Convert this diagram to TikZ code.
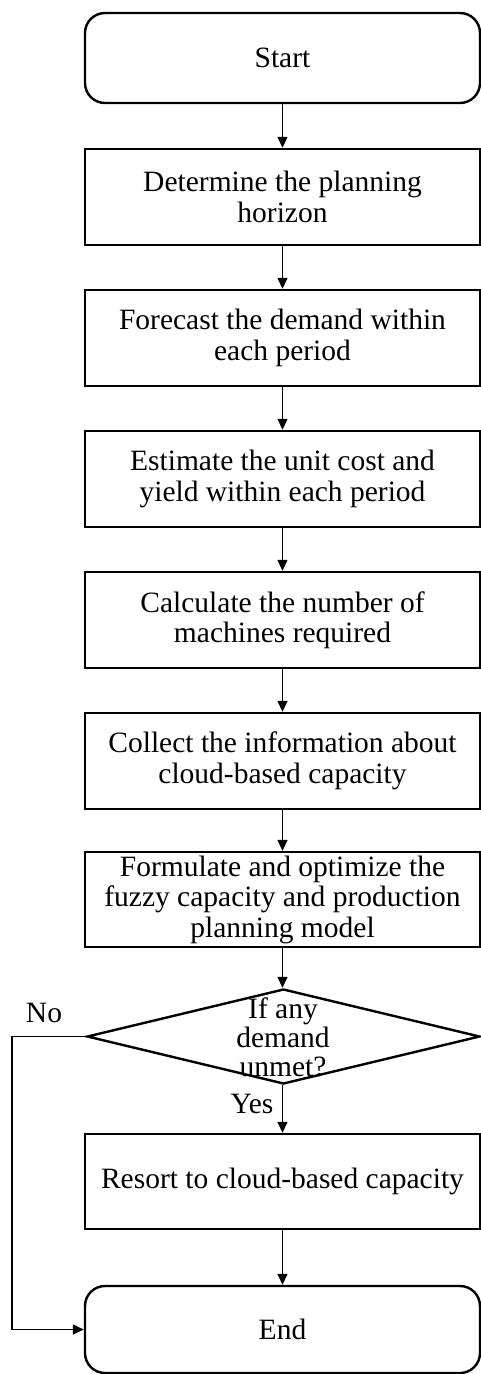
\documentclass[tikz,border=0pt]{standalone}
\usepackage{fontspec}
\setmainfont{Liberation Serif}
\usetikzlibrary{arrows.meta,shapes.geometric}
\begin{document}
\begin{tikzpicture}[x=1pt,y=-1pt,
  every node/.style={font=\fontsize{29.5}{30.5}\selectfont},
  procbox/.style={draw,line width=2.4pt,minimum width=395pt,minimum height=96pt,inner sep=0pt,align=center},
  termbox/.style={procbox,rounded corners=20pt},
  decbox/.style={draw,diamond,line width=2.4pt,minimum width=393pt,minimum height=95pt,inner sep=0pt},
  flow/.style={line width=1.4pt,-{Triangle[length=11pt,width=10pt]}},
  lbl/.style={inner sep=0pt,align=center}]
\useasboundingbox (0,0) rectangle (481,1374);
\node[termbox,minimum height=90pt] (start) at (282.5,58) {Start};
\node[procbox] (b1) at (282.5,197) {Determine the planning\\horizon};
\node[procbox] (b2) at (282.5,338) {Forecast the demand within\\each period};
\node[procbox] (b3) at (282.5,479) {Estimate the unit cost and\\yield within each period};
\node[procbox] (b4) at (282.5,620) {Calculate the number of\\machines required};
\node[procbox] (b5) at (282.5,761) {Collect the information about\\cloud-based capacity};
\node[procbox,minimum height=95pt] (b6) at (282.5,899.5) {Formulate and optimize the\\fuzzy capacity and production\\planning model};
\node[decbox] (dec) at (283.5,1036.5) {};
\node[lbl,font=\fontsize{29.5}{29}\selectfont] (dectext) at (283,1037) {If any\\demand\\unmet?};
\node[procbox,minimum height=95pt] (b7) at (282.5,1181.5) {Resort to cloud-based capacity};
\node[termbox,minimum height=87pt] (end) at (282.5,1329.5) {End};
\node[lbl,anchor=base] (no) at (44,1022) {No};
\node[lbl,anchor=base] (yes) at (252,1113) {Yes};
\coordinate (c1) at (12,1036.5);
\coordinate (c2) at (12,1329.5);
\draw[flow] (start) -- (b1);
\draw[flow] (b1) -- (b2);
\draw[flow] (b2) -- (b3);
\draw[flow] (b3) -- (b4);
\draw[flow] (b4) -- (b5);
\draw[flow] (b5) -- (b6);
\draw[flow] (b6.south) -- (b6.south |- dec.north);
\draw[flow] (b7.north |- dec.south) -- (b7.north);
\draw[flow] (b7) -- (end);
\draw[flow] (dec.west) -- (c1) -- (c2) -- (end.west);
\end{tikzpicture}
\end{document}
